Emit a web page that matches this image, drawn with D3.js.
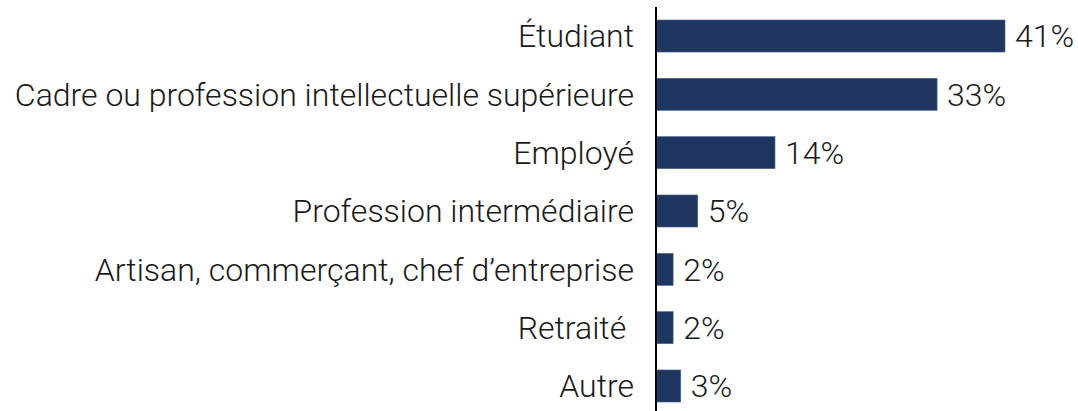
<!DOCTYPE html>
<html>
<head>
<meta charset="utf-8">
<script src="https://cdn.jsdelivr.net/npm/d3@7"></script>
<style>
  body { margin: 0; background: #fff; }
  text { font-family: Roboto, "Noto Sans", sans-serif; font-weight: 300; fill: #1a1a1a; white-space: pre; }
</style>
</head>
<body>
<script>
// categories and shares (%)
var categories = ["Étudiant", "Cadre ou profession intellectuelle supérieure", "Employé",
  "Profession intermédiaire", "Artisan, commerçant, chef d’entreprise", "Retraité\u00a0", "Autre"];
var values = [41, 33, 13.9, 4.8, 1.9, 1.9, 2.8];

var width = 1078;
var height = 411;
var left = 657;

const svg = d3.select("body")
  .append("svg")
  .attr("width", width)
  .attr("height", height);

//x scale: percent to pixels
var xscale = d3.scaleLinear()
  .domain([0, 41])
  .range([left, 1005]);

//band for each category
var yscale = d3.scaleBand()
  .domain(categories)
  .range([20, 402])
  .paddingInner(0.451)
  .paddingOuter(0);

svg.selectAll("rect")
  .data(values)
  .enter()
  .append("rect")
  .attr("x", xscale(0))
  .attr("y", (d, i) => yscale(categories[i]))
  .attr("width", (d) => xscale(d) - xscale(0))
  .attr("height", yscale.bandwidth())
  .style("fill", "#1f3760")
  .style("stroke", "#4a6288")
  .style("stroke-width", 0.6);

var yAxis = d3.axisLeft(yscale).tickSize(0).tickPadding(22);

var g = svg.append("g")
  .attr("transform", "translate(" + (left - 1) + ",0)")
  .call(yAxis);
g.select(".domain").remove();
g.selectAll("text").style("font-size", "32px").attr("dy", "0.35em").attr("fill", null);

svg.append("line")
  .attr("x1", left - 1).attr("x2", left - 1)
  .attr("y1", 7).attr("y2", height)
  .style("stroke", "#000")
  .style("stroke-width", 2);

svg.selectAll(".val")
  .data(values)
  .enter()
  .append("text")
  .attr("class", "val")
  .attr("x", (d) => xscale(d) + 10)
  .attr("y", (d, i) => yscale(categories[i]) + yscale.bandwidth() / 2)
  .attr("dy", "0.35em")
  .style("font-size", "32px")
  .text((d) => d3.format(".0f")(d) + "%");
</script>
</body>
</html>
